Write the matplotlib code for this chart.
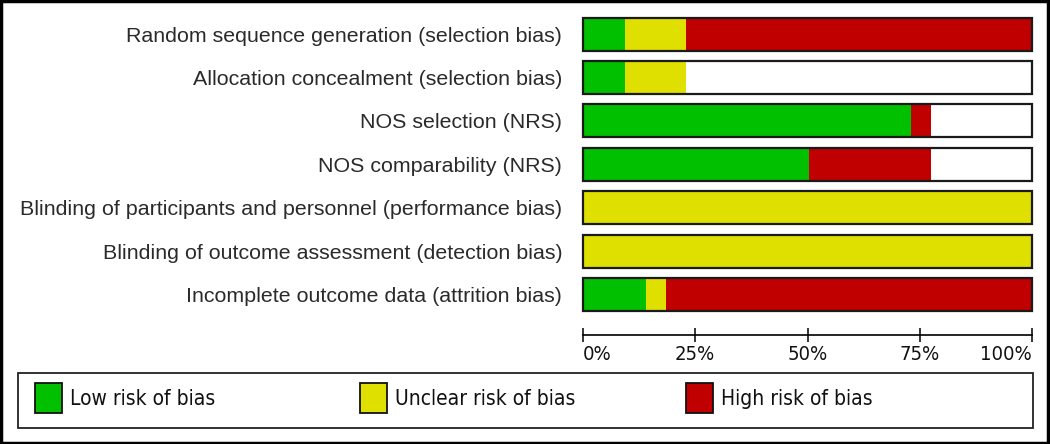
import matplotlib
matplotlib.use('Agg')
import matplotlib.pyplot as plt
from matplotlib.patches import Rectangle

# domains (top to bottom)
domains = [
    'Random sequence generation (selection bias)',
    'Allocation concealment (selection bias)',
    'NOS selection (NRS)',
    'NOS comparability (NRS)',
    'Blinding of participants and personnel (performance bias)',
    'Blinding of outcome assessment (detection bias)',
    'Incomplete outcome data (attrition bias)',
]
low = [9.4, 9.4, 73.1, 50.4, 0, 0, 14.1]
unclear = [13.6, 13.6, 0, 0, 100, 100, 4.3]
high = [77.0, 0, 4.3, 27.0, 0, 0, 81.6]

legend_labels = ['Low risk of bias', 'Unclear risk of bias', 'High risk of bias']
colors = ['#00c000', '#e0e000', '#c00000']

xticks = [0, 25, 50, 75, 100]
xticklabels = ['0%', '25%', '50%', '75%', '100%']

fig = plt.figure(figsize=(10.5, 4.44), dpi=100)
ax = fig.add_axes([583 / 1050, 1 - 335 / 444, 449 / 1050, 323 / 444])

y = list(range(len(domains)))
h = 0.76
ax.barh(y, [100] * len(y), height=h, color='white', zorder=1)
left = [0] * len(y)
for vals, c in zip([low, unclear, high], colors):
    ax.barh(y, vals, height=h, left=left, color=c, linewidth=0, zorder=2)
    left = [a + b for a, b in zip(left, vals)]
ax.barh(y, [100] * len(y), height=h, fill=False, edgecolor='#1a1a1a',
        linewidth=1.6, zorder=3, clip_on=False)

ax.set_xlim(0, 100)
ax.set_ylim(6.93, -0.51)
ax.set_yticks(y)
ax.set_yticklabels(domains, fontsize=15.4, color='#2a2a2a', family='Liberation Sans')
ax.tick_params(axis='y', length=0, pad=15)

ax.set_xticks(xticks)
ax.set_xticklabels(xticklabels, fontsize=14.5, family='DejaVu Sans',
                   stretch='condensed', color='#111')
for lab, ha in zip(ax.get_xticklabels(), ['left', 'center', 'center', 'center', 'right']):
    lab.set_ha(ha)
ax.tick_params(axis='x', direction='inout', length=10, width=1.1, pad=2)

for s in ['left', 'right', 'top']:
    ax.spines[s].set_visible(False)
ax.spines['bottom'].set_linewidth(1.2)

# legend box
W, H = 1050, 444
fig.patches.append(Rectangle((18 / W, 1 - 428 / H), (1033 - 18) / W, (428 - 373) / H,
                             transform=fig.transFigure, fill=False,
                             edgecolor='#222', linewidth=1.3))
for x0, lab, c in zip([35, 360, 686], legend_labels, colors):
    fig.patches.append(Rectangle((x0 / W, 1 - 413 / H), 27 / W, 30 / H,
                                 transform=fig.transFigure, facecolor=c,
                                 edgecolor='#111', linewidth=1.3))
    fig.text((x0 + 35) / W, 1 - 399 / H, lab, fontsize=15, family='DejaVu Sans',
             stretch='condensed', va='center', ha='left', color='#111')

# outer frame
fig.patches.append(Rectangle((0.001, 0.002), 0.997, 0.995, transform=fig.transFigure,
                             fill=False, edgecolor='black', linewidth=2.5))

fig.savefig('out.png', dpi=100)
